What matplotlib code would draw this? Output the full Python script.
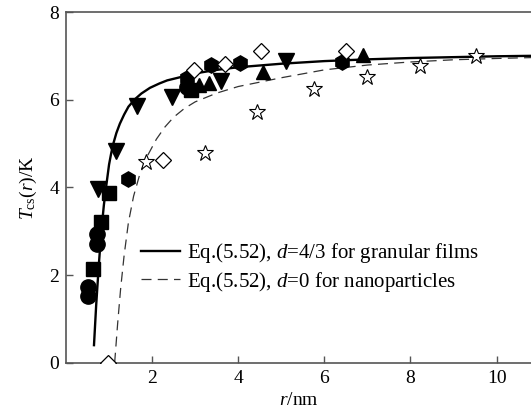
import matplotlib
matplotlib.use("Agg")
import matplotlib.pyplot as plt

plt.rcParams["font.family"] = ["Liberation Serif", "DejaVu Serif"]
plt.rcParams["mathtext.fontset"] = "custom"
plt.rcParams["mathtext.rm"] = "Liberation Serif"
plt.rcParams["mathtext.it"] = "Liberation Serif:italic"

# Eq.(5.52) with d=4/3 (granular films)
r_films = [0.65, 0.70, 0.76, 0.82, 0.88, 0.93, 1.00, 1.05, 1.10, 1.17, 1.25,
           1.35, 1.45, 1.60, 1.75, 1.95, 2.17, 2.35, 2.60, 3.00, 3.50, 4.00,
           4.50, 5.00, 6.00, 7.00, 8.00, 9.00, 10.00, 10.80]
T_films = [0.40, 1.30, 2.20, 3.00, 3.60, 4.00, 4.52, 4.78, 5.00, 5.24, 5.45,
           5.66, 5.84, 6.01, 6.14, 6.27, 6.37, 6.44, 6.50, 6.60, 6.68, 6.74,
           6.78, 6.82, 6.88, 6.92, 6.95, 6.97, 6.99, 7.00]

# Eq.(5.52) with d=0 (nanoparticles)
r_nano = [1.13, 1.20, 1.27, 1.35, 1.45, 1.57, 1.70, 1.87, 2.10, 2.30, 2.50,
          2.75, 3.00, 3.50, 4.00, 5.00, 6.00, 7.00, 8.00, 9.00, 10.00, 10.80]
T_nano = [0.00, 0.90, 1.70, 2.45, 3.20, 3.80, 4.25, 4.68, 5.10, 5.38, 5.60,
          5.80, 5.95, 6.15, 6.30, 6.50, 6.68, 6.79, 6.86, 6.91, 6.94, 6.96]

# Measured data sets
circ_r = [0.50, 0.50, 0.73, 0.73, 2.80]
circ_T = [1.72, 1.52, 2.93, 2.70, 6.28]
sq_r = [0.63, 0.82, 1.00, 2.90]
sq_T = [2.13, 3.22, 3.88, 6.22]
dtri_r = [0.75, 1.15, 1.65, 2.46, 3.60, 5.10]
dtri_T = [3.96, 4.82, 5.86, 6.06, 6.43, 6.88]
hex_r = [1.44, 2.80, 3.37, 4.03, 6.42]
hex_T = [4.18, 6.50, 6.78, 6.84, 6.87]
utri_r = [3.10, 3.33, 4.58, 6.90]
utri_T = [6.33, 6.37, 6.62, 7.02]
dia_r = [0.98, 2.25, 2.98, 3.70, 4.52, 6.50]
dia_T = [0.00, 4.62, 6.68, 6.82, 7.10, 7.12]
star_r = [1.85, 3.22, 4.43, 5.76, 7.00, 8.22, 9.52]
star_T = [4.57, 4.78, 5.73, 6.25, 6.52, 6.76, 7.00]

x_ticks = [2, 4, 6, 8, 10]
y_ticks = [0, 2, 4, 6, 8]

fig = plt.figure(figsize=(5.31, 4.11), dpi=100)
ax = fig.add_axes([0.1243, 0.1175, 0.8757, 0.8533])

ax.plot(r_films, T_films, color="black", lw=1.7, zorder=2,
        label=r"Eq.(5.52), $d$=4/3 for granular films")
ax.plot(r_nano, T_nano, color="#333333", lw=0.9, ls=(0, (8, 5)), zorder=2,
        label=r"Eq.(5.52), $d$=0 for nanoparticles")

ax.plot(circ_r, circ_T, "o", ms=11, color="black", zorder=3)
ax.plot(sq_r, sq_T, "s", ms=10, color="black", zorder=3)
ax.plot(dtri_r, dtri_T, "v", ms=11, color="black", zorder=3)
ax.plot(hex_r, hex_T, "h", ms=11, color="black", zorder=3)
ax.plot(utri_r, utri_T, "^", ms=10, color="black", zorder=3)
ax.plot(dia_r, dia_T, "D", ms=8.5, mfc="white", mec="black", mew=0.9, zorder=4)
ax.plot(star_r, star_T, "*", ms=12, mfc="white", mec="black", mew=0.8, zorder=4)

ax.set_xlim(0, 10.8)
ax.set_ylim(0, 8)
ax.set_xticks(x_ticks)
ax.set_yticks(y_ticks)
ax.tick_params(direction="in", length=5, width=1, color="#555555",
               labelsize=14, pad=5)
for side in ["left", "bottom", "top"]:
    ax.spines[side].set_color("#555555")
    ax.spines[side].set_linewidth(1.2)
ax.spines["right"].set_visible(False)

ax.set_xlabel(r"$r$/nm", fontsize=14, labelpad=4)
ax.set_ylabel(r"$T_{\rm cs}(r)$/K", fontsize=14, labelpad=7)

ax.legend(loc="upper left", bbox_to_anchor=(0.122, 0.40), frameon=False,
          fontsize=15, handlelength=1.85, handletextpad=0.35,
          labelspacing=0.22)

fig.savefig("out.png", dpi=100)
